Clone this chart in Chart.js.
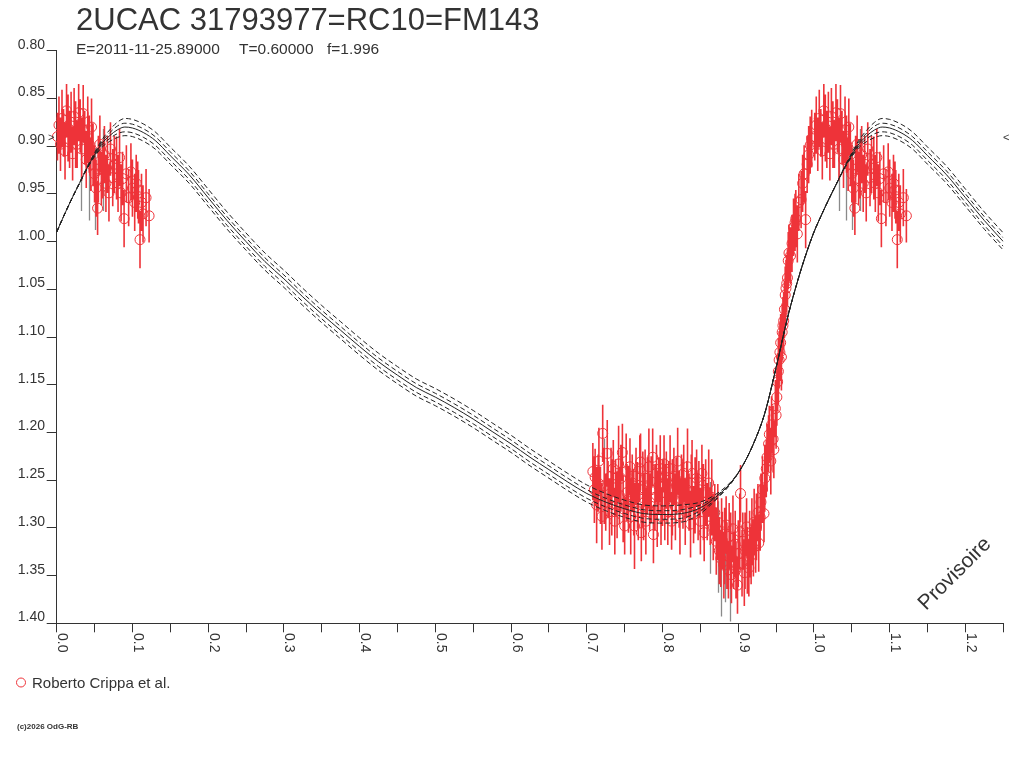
<!DOCTYPE html>
<html>
<head>
<meta charset="utf-8">
<title>2UCAC 31793977=RC10=FM143</title>
<script src="https://cdn.jsdelivr.net/npm/chart.js@4.4.1/dist/chart.umd.min.js"></script>
<style>
  html, body { margin: 0; padding: 0; background: #fff; }
  #chart { display: block; }
</style>
</head>
<body>
<canvas id="chart" width="1024" height="768"></canvas>
<script>
// tick labels
var xTickLabels = ["0.0", "0.1", "0.2", "0.3", "0.4", "0.5", "0.6", "0.7", "0.8", "0.9", "1.0", "1.1", "1.2"];
var yTickLabels = ["0.80", "0.85", "0.90", "0.95", "1.00", "1.05", "1.10", "1.15", "1.20", "1.25", "1.30", "1.35", "1.40"];

// model curve (phase 0..1, repeated after 1.0), five lines
var modelPhase = [0.000, 0.010, 0.020, 0.030, 0.040, 0.050, 0.060, 0.070, 0.080, 0.090, 0.100, 0.115, 0.130, 0.150, 0.175, 0.200, 0.225, 0.250,
  0.275, 0.300, 0.325, 0.350, 0.375, 0.400, 0.425, 0.450, 0.475, 0.500, 0.525, 0.550, 0.575, 0.600, 0.625, 0.650, 0.675, 0.700,
  0.725, 0.750, 0.775, 0.800, 0.825, 0.850, 0.870, 0.890, 0.905, 0.920, 0.935, 0.950, 0.965, 0.980, 0.990, 1.000];
var modelMid = [0.990, 0.972, 0.955, 0.939, 0.923, 0.909, 0.897, 0.889, 0.883, 0.880, 0.881, 0.886, 0.894, 0.910, 0.930, 0.954, 0.978, 1.000,
  1.021, 1.039, 1.058, 1.076, 1.093, 1.110, 1.126, 1.140, 1.153, 1.163, 1.174, 1.186, 1.199, 1.212, 1.226, 1.239, 1.252, 1.264,
  1.273, 1.280, 1.285, 1.286, 1.285, 1.279, 1.268, 1.253, 1.236, 1.212, 1.180, 1.132, 1.080, 1.037, 1.012, 0.990];
var modelUp1 = [0.990, 0.972, 0.955, 0.939, 0.923, 0.908, 0.895, 0.886, 0.879, 0.876, 0.877, 0.882, 0.890, 0.906, 0.926, 0.950, 0.974, 0.996,
  1.017, 1.035, 1.054, 1.072, 1.089, 1.106, 1.122, 1.136, 1.149, 1.159, 1.170, 1.182, 1.195, 1.208, 1.222, 1.235, 1.248, 1.260,
  1.269, 1.276, 1.281, 1.282, 1.281, 1.276, 1.267, 1.253, 1.236, 1.212, 1.180, 1.132, 1.080, 1.037, 1.012, 0.990];
var modelUp2 = [0.990, 0.972, 0.955, 0.939, 0.922, 0.907, 0.893, 0.883, 0.875, 0.871, 0.872, 0.877, 0.885, 0.901, 0.921, 0.945, 0.969, 0.991,
  1.012, 1.030, 1.049, 1.067, 1.084, 1.101, 1.117, 1.131, 1.144, 1.154, 1.165, 1.177, 1.190, 1.203, 1.217, 1.230, 1.243, 1.255,
  1.264, 1.271, 1.276, 1.277, 1.276, 1.273, 1.265, 1.252, 1.236, 1.212, 1.180, 1.132, 1.080, 1.037, 1.012, 0.990];
var modelDn1 = [0.990, 0.972, 0.955, 0.939, 0.923, 0.910, 0.899, 0.892, 0.887, 0.885, 0.886, 0.891, 0.899, 0.915, 0.935, 0.959, 0.983, 1.005,
  1.026, 1.044, 1.063, 1.081, 1.098, 1.115, 1.131, 1.145, 1.158, 1.168, 1.179, 1.191, 1.204, 1.217, 1.231, 1.244, 1.257, 1.269,
  1.278, 1.285, 1.290, 1.291, 1.290, 1.282, 1.270, 1.253, 1.236, 1.212, 1.180, 1.132, 1.080, 1.037, 1.012, 0.990];
var modelDn2 = [0.990, 0.972, 0.955, 0.939, 0.924, 0.911, 0.901, 0.895, 0.891, 0.889, 0.890, 0.895, 0.903, 0.919, 0.939, 0.963, 0.987, 1.009,
  1.030, 1.048, 1.067, 1.085, 1.102, 1.119, 1.135, 1.149, 1.162, 1.172, 1.183, 1.195, 1.208, 1.221, 1.235, 1.248, 1.261, 1.273,
  1.282, 1.289, 1.294, 1.295, 1.294, 1.285, 1.271, 1.254, 1.236, 1.212, 1.180, 1.132, 1.080, 1.037, 1.012, 0.990];

// observations near maximum (phase 0..0.13, also shown at phase+1)
var phaseA = [0.001, 0.003, 0.005, 0.007, 0.009, 0.011, 0.013, 0.015, 0.017, 0.019, 0.021, 0.023, 0.025, 0.027, 0.029, 0.031, 0.033, 0.035,
  0.037, 0.039, 0.041, 0.043, 0.045, 0.046, 0.048, 0.050, 0.052, 0.054, 0.055, 0.057, 0.059, 0.061, 0.063, 0.065, 0.067, 0.069,
  0.071, 0.074, 0.076, 0.079, 0.081, 0.083, 0.085, 0.087, 0.089, 0.092, 0.095, 0.098, 0.100, 0.103, 0.105, 0.107, 0.108, 0.110,
  0.112, 0.114, 0.118, 0.122];
var magA = [0.890, 0.878, 0.898, 0.871, 0.886, 0.905, 0.863, 0.881, 0.893, 0.875, 0.908, 0.869, 0.888, 0.898, 0.865, 0.879, 0.903, 0.866,
  0.891, 0.914, 0.883, 0.898, 0.919, 0.880, 0.909, 0.929, 0.944, 0.965, 0.924, 0.898, 0.934, 0.925, 0.909, 0.939, 0.919, 0.949,
  0.903, 0.933, 0.919, 0.923, 0.939, 0.912, 0.949, 0.934, 0.976, 0.929, 0.954, 0.927, 0.944, 0.959, 0.939, 0.946, 0.953, 0.998,
  0.959, 0.971, 0.954, 0.973];
var errA = [0.025, 0.030, 0.028, 0.030, 0.025, 0.030, 0.028, 0.035, 0.030, 0.032, 0.028, 0.030, 0.035, 0.025, 0.030, 0.028, 0.033, 0.030,
  0.028, 0.030, 0.035, 0.030, 0.028, 0.030, 0.033, 0.030, 0.030, 0.028, 0.035, 0.030, 0.028, 0.030, 0.030, 0.030, 0.030, 0.030,
  0.028, 0.030, 0.030, 0.033, 0.030, 0.030, 0.030, 0.028, 0.030, 0.030, 0.030, 0.030, 0.030, 0.030, 0.030, 0.030, 0.028, 0.030,
  0.030, 0.030, 0.030, 0.028];

// observations around minimum and rising branch (phase 0.70..1.0)
var phaseB = [0.708, 0.710, 0.711, 0.713, 0.715, 0.716, 0.718, 0.720, 0.721, 0.723, 0.725, 0.727, 0.728, 0.730, 0.732, 0.733, 0.735, 0.737,
  0.738, 0.740, 0.742, 0.743, 0.745, 0.747, 0.748, 0.750, 0.752, 0.753, 0.755, 0.757, 0.758, 0.760, 0.762, 0.763, 0.765, 0.767,
  0.768, 0.770, 0.771, 0.772, 0.774, 0.775, 0.777, 0.778, 0.780, 0.782, 0.783, 0.785, 0.787, 0.788, 0.790, 0.792, 0.793, 0.795,
  0.797, 0.798, 0.800, 0.802, 0.803, 0.805, 0.807, 0.808, 0.810, 0.812, 0.813, 0.815, 0.817, 0.818, 0.820, 0.822, 0.823, 0.825,
  0.827, 0.828, 0.830, 0.832, 0.833, 0.835, 0.837, 0.838, 0.839, 0.841, 0.843, 0.845, 0.847, 0.848, 0.850, 0.852, 0.854, 0.855,
  0.857, 0.859, 0.861, 0.863, 0.865,
  0.867, 0.869, 0.871, 0.873, 0.875, 0.877, 0.878, 0.879, 0.881, 0.882, 0.884, 0.885, 0.887, 0.888, 0.890, 0.891, 0.893, 0.894,
  0.896, 0.897, 0.899, 0.900, 0.902, 0.903, 0.905, 0.906, 0.908, 0.909, 0.911, 0.912, 0.914, 0.915, 0.917, 0.918, 0.920, 0.921,
  0.923, 0.924, 0.926, 0.927, 0.929, 0.930, 0.932, 0.934, 0.935,
  0.937, 0.938, 0.940, 0.941, 0.943, 0.944, 0.946, 0.947, 0.949, 0.950, 0.951, 0.952, 0.953, 0.954, 0.955, 0.956, 0.957, 0.958,
  0.959, 0.960, 0.961, 0.962, 0.963, 0.964, 0.965, 0.966, 0.967, 0.969, 0.971, 0.973, 0.975, 0.976, 0.978, 0.980, 0.983, 0.985,
  0.987, 0.989, 0.991, 0.993, 0.995, 0.997];
var magB = [1.241, 1.260, 1.247, 1.276, 1.253, 1.230, 1.266, 1.288, 1.201, 1.256, 1.273, 1.222, 1.260, 1.283, 1.246, 1.268, 1.238, 1.293,
  1.258, 1.276, 1.233, 1.266, 1.248, 1.221, 1.280, 1.298, 1.241, 1.263, 1.270, 1.236, 1.288, 1.253, 1.273, 1.298, 1.246, 1.266,
  1.283, 1.238, 1.231, 1.305, 1.260, 1.278, 1.248, 1.293, 1.256, 1.236, 1.273, 1.260, 1.226, 1.307, 1.268, 1.243, 1.280, 1.256,
  1.238, 1.288, 1.263, 1.233, 1.273, 1.250, 1.283, 1.260, 1.238, 1.293, 1.268, 1.246, 1.278, 1.256, 1.230, 1.270, 1.288, 1.253,
  1.266, 1.243, 1.283, 1.260, 1.236, 1.273, 1.296, 1.253, 1.243, 1.286, 1.266, 1.248, 1.278, 1.260, 1.293, 1.243, 1.273, 1.305,
  1.263, 1.283, 1.253, 1.288, 1.268,
  1.299, 1.284, 1.314, 1.294, 1.324, 1.332, 1.304, 1.313, 1.339, 1.319, 1.297, 1.329, 1.344, 1.309, 1.324, 1.349, 1.301, 1.334,
  1.317, 1.344, 1.360, 1.327, 1.304, 1.264, 1.337, 1.314, 1.347, 1.324, 1.299, 1.334, 1.342, 1.317, 1.329, 1.304, 1.321, 1.294,
  1.317, 1.299, 1.284, 1.316, 1.289, 1.273, 1.260, 1.285, 1.248,
  1.238, 1.226, 1.212, 1.202, 1.230, 1.192, 1.207, 1.218, 1.175, 1.182, 1.163, 1.147, 1.136, 1.124, 1.116, 1.106, 1.121, 1.095,
  1.088, 1.083, 1.071, 1.056, 1.049, 1.044, 1.038, 1.020, 1.012, 1.015, 1.002, 0.985, 0.980, 0.976, 0.992, 0.959, 0.956, 0.939,
  0.929, 0.977, 0.919, 0.909, 0.899, 0.892];
var errB = [0.030, 0.035, 0.030, 0.040, 0.030, 0.035, 0.030, 0.035, 0.030, 0.040, 0.030, 0.035, 0.030, 0.035, 0.030, 0.040, 0.030, 0.035,
  0.030, 0.035, 0.040, 0.030, 0.035, 0.030, 0.035, 0.030, 0.040, 0.030, 0.035, 0.030, 0.040, 0.030, 0.035, 0.045, 0.030, 0.035,
  0.030, 0.035, 0.030, 0.030, 0.040, 0.035, 0.030, 0.035, 0.030, 0.040, 0.030, 0.035, 0.030, 0.030, 0.035, 0.030, 0.040, 0.030,
  0.035, 0.030, 0.035, 0.030, 0.040, 0.030, 0.035, 0.030, 0.035, 0.030, 0.040, 0.030, 0.035, 0.030, 0.035, 0.030, 0.040, 0.030,
  0.035, 0.030, 0.035, 0.030, 0.040, 0.030, 0.035, 0.030, 0.035, 0.030, 0.040, 0.030, 0.035, 0.030, 0.035, 0.030, 0.040, 0.030,
  0.035, 0.030, 0.035, 0.030, 0.040,
  0.035, 0.030, 0.035, 0.040, 0.035, 0.030, 0.035, 0.030, 0.035, 0.040, 0.030, 0.035, 0.030, 0.035, 0.040, 0.030, 0.035, 0.030,
  0.035, 0.030, 0.030, 0.035, 0.040, 0.030, 0.035, 0.030, 0.035, 0.040, 0.030, 0.035, 0.030, 0.035, 0.030, 0.035, 0.030, 0.035,
  0.030, 0.035, 0.030, 0.030, 0.035, 0.030, 0.035, 0.030, 0.035,
  0.030, 0.035, 0.030, 0.030, 0.035, 0.030, 0.035, 0.030, 0.030, 0.035, 0.030, 0.030, 0.035, 0.030, 0.030, 0.030, 0.035, 0.030,
  0.030, 0.030, 0.030, 0.030, 0.030, 0.030, 0.030, 0.030, 0.030, 0.030, 0.030, 0.030, 0.030, 0.030, 0.030, 0.030, 0.030, 0.030,
  0.030, 0.030, 0.030, 0.030, 0.030, 0.030];

// grey error bars seen behind the red ones
var greyPhase = [0.030, 0.040, 0.048, 0.058, 0.720, 0.860, 0.870, 0.875, 0.880, 0.886];
var greyMag = [0.925, 0.935, 0.945, 0.925, 1.250, 1.300, 1.320, 1.345, 1.330, 1.355];
var greyErr = [0.035, 0.035, 0.035, 0.035, 0.035, 0.040, 0.040, 0.040, 0.040, 0.035];

var RED = "#ee3339";
var INK = "#333333";
var FONT = '"Liberation Sans", Arial, sans-serif';

function buildPoints(ph, mg, er, wrapBelow) {
    var pts = [];
    for (var i = 0; i < ph.length; i++) {
        pts.push({ x: ph[i], y: mg[i], e: er[i] });
    }
    for (var j = 0; j < ph.length; j++) {
        if (ph[j] < wrapBelow) {
            pts.push({ x: ph[j] + 1, y: mg[j], e: er[j] });
        }
    }
    return pts;
}

function buildCurve(vals) {
    var pts = [];
    for (var i = 0; i < modelPhase.length; i++) {
        pts.push({ x: modelPhase[i], y: vals[i] });
    }
    for (var j = 1; j < modelPhase.length; j++) {
        if (modelPhase[j] <= 0.25) {
            pts.push({ x: modelPhase[j] + 1, y: vals[j] });
        }
    }
    return pts;
}

var redPoints = buildPoints(phaseA, magA, errA, 0.2).concat(buildPoints(phaseB, magB, errB, 0));
var greyPoints = buildPoints(greyPhase, greyMag, greyErr, 0.2);

function curveSet(vals, dashed) {
    return {
        type: "line",
        data: buildCurve(vals),
        borderColor: "#222",
        borderWidth: 1,
        borderDash: dashed ? [5, 3] : [],
        pointRadius: 0,
        fill: false,
        cubicInterpolationMode: "monotone",
        order: 0
    };
}

// error bars drawn under the circles
var errorBars = {
    id: "errorBars",
    beforeDatasetsDraw: function (chart) {
        var ctx = chart.ctx;
        var xs = chart.scales.x, ys = chart.scales.y;
        ctx.save();
        ctx.lineWidth = 1.3;
        ctx.strokeStyle = "#8a8a8a";
        ctx.beginPath();
        greyPoints.forEach(function (p) {
            var px = Math.round(xs.getPixelForValue(p.x)) + 2.5;
            ctx.moveTo(px, ys.getPixelForValue(p.y - p.e - 0.008));
            ctx.lineTo(px, ys.getPixelForValue(p.y + p.e + 0.008));
        });
        ctx.stroke();
        ctx.lineWidth = 1.6;
        ctx.strokeStyle = RED;
        ctx.beginPath();
        redPoints.forEach(function (p) {
            var px = xs.getPixelForValue(p.x);
            ctx.moveTo(px, ys.getPixelForValue(p.y - p.e));
            ctx.lineTo(px, ys.getPixelForValue(p.y + p.e));
        });
        ctx.stroke();
        ctx.restore();
    }
};

// tick labels, title, legend and notes
var decorations = {
    id: "decorations",
    afterDraw: function (chart) {
        var ctx = chart.ctx;
        var xs = chart.scales.x, ys = chart.scales.y;
        ctx.save();
        ctx.fillStyle = INK;

        ctx.font = "14px " + FONT;
        ctx.textAlign = "right";
        ctx.textBaseline = "alphabetic";
        yTickLabels.forEach(function (t) {
            ctx.fillText(t, 45, ys.getPixelForValue(parseFloat(t)) - 2);
        });

        ctx.textAlign = "left";
        xTickLabels.forEach(function (t) {
            var px = xs.getPixelForValue(parseFloat(t));
            ctx.save();
            ctx.translate(px + 1.5, 633);
            ctx.rotate(Math.PI / 2);
            ctx.fillText(t, 0, 0);
            ctx.restore();
        });

        // title and elements
        ctx.font = "31px " + FONT;
        ctx.fillText("2UCAC 31793977=RC10=FM143", 76, 30);
        ctx.font = "15.5px " + FONT;
        ctx.fillText("E=2011-11-25.89000", 76, 54);
        ctx.fillText("T=0.60000", 239, 54);
        ctx.fillText("f=1.996", 327, 54);

        // max markers on both sides
        ctx.font = "11px " + FONT;
        ctx.fillText(">", 48, ys.getPixelForValue(0.890) + 4);
        ctx.fillText("<", 1003, ys.getPixelForValue(0.890) + 4);

        // legend
        ctx.strokeStyle = RED;
        ctx.lineWidth = 1;
        ctx.beginPath();
        ctx.arc(21, 682.5, 4.5, 0, Math.PI * 2);
        ctx.stroke();
        ctx.font = "15px " + FONT;
        ctx.fillText("Roberto Crippa et al.", 32, 688);

        ctx.font = "bold 8px " + FONT;
        ctx.fillText("(c)2026 OdG-RB", 17, 729);

        ctx.save();
        ctx.translate(926, 611);
        ctx.rotate(-Math.PI / 4);
        ctx.font = "21px " + FONT;
        ctx.fillText("Provisoire", 0, 0);
        ctx.restore();

        ctx.restore();
    }
};

var ctx = document.getElementById("chart").getContext("2d");
var lightCurve = new Chart(ctx, {
    type: "scatter",
    data: {
        datasets: [
            curveSet(modelUp2, true),
            curveSet(modelUp1, true),
            curveSet(modelMid, false),
            curveSet(modelDn1, true),
            curveSet(modelDn2, true),
            {
                label: "Roberto Crippa et al.",
                data: redPoints,
                pointStyle: "circle",
                pointRadius: 5,
                pointBorderWidth: 1,
                pointBorderColor: RED,
                pointBackgroundColor: "rgba(0,0,0,0)",
                clip: false,
                order: 1
            }
        ]
    },
    options: {
        responsive: false,
        animation: false,
        events: [],
        layout: { padding: { left: 0, top: 50.7, right: 20.7, bottom: 134.7 } },
        plugins: {
            legend: { display: false },
            title: { display: false },
            tooltip: { enabled: false }
        },
        scales: {
            x: {
                type: "linear",
                min: 0,
                max: 1.25,
                afterFit: function (s) { s.height = 10; },
                ticks: { display: false, stepSize: 0.05, autoSkip: false },
                grid: { drawOnChartArea: false, tickLength: 9, color: INK, lineWidth: 1 },
                border: { display: true, color: INK, width: 1 }
            },
            y: {
                type: "linear",
                reverse: true,
                min: 0.8,
                max: 1.4,
                afterFit: function (s) { s.width = 56.7; },
                ticks: { display: false, stepSize: 0.05, autoSkip: false },
                grid: { drawOnChartArea: false, tickLength: 10, color: INK, lineWidth: 1 },
                border: { display: true, color: INK, width: 1 }
            }
        }
    },
    plugins: [errorBars, decorations]
});
</script>
</body>
</html>
